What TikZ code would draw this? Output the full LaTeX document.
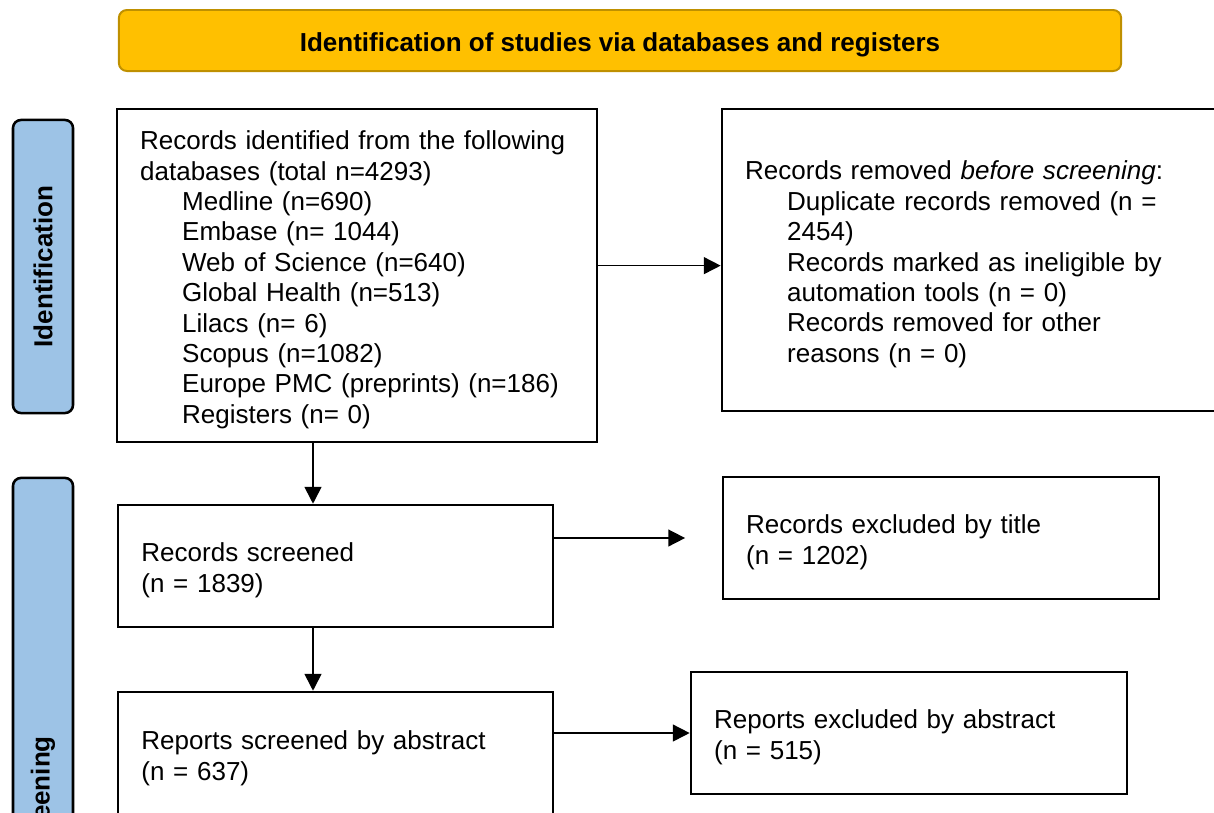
\documentclass[tikz,border=0pt]{standalone}
\usepackage{fontspec}
\setmainfont{Liberation Sans}
\usetikzlibrary{arrows.meta,calc}
\definecolor{gold}{HTML}{FFC000}
\definecolor{darkgold}{HTML}{BF9000}
\definecolor{paleblue}{HTML}{9DC3E6}
\tikzset{>={Triangle[length=12pt,width=12pt]}}
\tikzstyle{flowbox}=[rectangle,draw=black,line width=1.8pt,align=left,inner xsep=16.5pt,inner ysep=0pt,text height=19.5pt,font=\fontsize{18.5}{21.6}\selectfont]
\tikzstyle{phase}=[rectangle,draw=black,fill=paleblue,line width=1.8pt,rounded corners=0.2cm,rotate=90,inner sep=0pt,font=\fontsize{18.5}{21.6}\selectfont\bfseries]
\tikzstyle{header}=[rectangle,draw=darkgold,fill=gold,line width=1.4pt,rounded corners=0.2cm,inner sep=0pt,text height=19.5pt,text depth=3.9pt,font=\fontsize{18.5}{21.6}\selectfont\bfseries]
\tikzstyle{arr}=[->,line width=1.2pt]

\begin{document}
\begin{tikzpicture}[x=0.025cm,y=-0.025cm]
	\def\dbgap{\hspace*{1.05cm}}
	\useasboundingbox (0,0) rectangle (1214,812);
	\clip (0,0) rectangle (1214,812);

	\node[header, minimum width=25.05cm, minimum height=1.525cm] (title) at (620,40.5) {Identification of studies via databases and registers};

	\node[phase, minimum width=7.325cm, minimum height=1.5cm] (phaseid) at (43,266.5) {Identification};
	\node[phase, minimum width=16.05cm, minimum height=1.5cm] (phasescr) at (43,799) {Screening};

	\node[flowbox, minimum width=12cm, text width=10.84cm, minimum height=8.325cm] (ident) at (357,275.5) {%
		Records identified from the following\\
		databases (total n=4293)\\
		\dbgap Medline (n=690)\\
		\dbgap Embase (n= 1044)\\
		\dbgap Web of Science (n=640)\\
		\dbgap Global Health (n=513)\\
		\dbgap Lilacs (n= 6)\\
		\dbgap Scopus (n=1082)\\
		\dbgap Europe PMC (preprints) (n=186)\\
		\dbgap Registers (n= 0)};
	\node[flowbox, minimum width=12.5cm, text width=11.34cm, minimum height=7.55cm] (removed) at (972,260) {%
		Records removed \textit{before screening}:\\
		\dbgap Duplicate records removed (n =\\
		\dbgap 2454)\\
		\dbgap Records marked as ineligible by\\
		\dbgap automation tools (n = 0)\\
		\dbgap Records removed for other\\
		\dbgap reasons (n = 0)};

	\node[flowbox, minimum width=10.875cm, text width=9.7cm, minimum height=3.05cm] (screened) at (335.5,566) {Records screened\\(n = 1839)};
	\node[flowbox, minimum width=10.9cm, text width=9.74cm, minimum height=3.05cm] (extitle) at (941,538) {Records excluded by title\\(n = 1202)};
	\node[flowbox, minimum width=10.875cm, text width=9.7cm, minimum height=3.1cm] (abstract) at (335.5,754) {Reports screened by abstract\\(n = 637)};
	\node[flowbox, minimum width=10.9cm, text width=9.74cm, minimum height=3.05cm] (exabstract) at (909,733) {Reports excluded by abstract\\(n = 515)};

	\coordinate (spine) at (313,0);
	\foreach \a/\b in {ident/screened, screened/abstract} {
		\draw[arr] (spine |- \a.south) -- (spine |- \b.north);
	};
	\draw[arr] ([yshift=-4pt]ident.east |- removed.west) -- ([yshift=-4pt]removed.west);
	\draw[arr] (screened.east |- extitle.west) -- ([xshift=-26pt]extitle.west);
	\draw[arr] (abstract.east |- exabstract.west) -- (exabstract.west);
\end{tikzpicture}
\end{document}
